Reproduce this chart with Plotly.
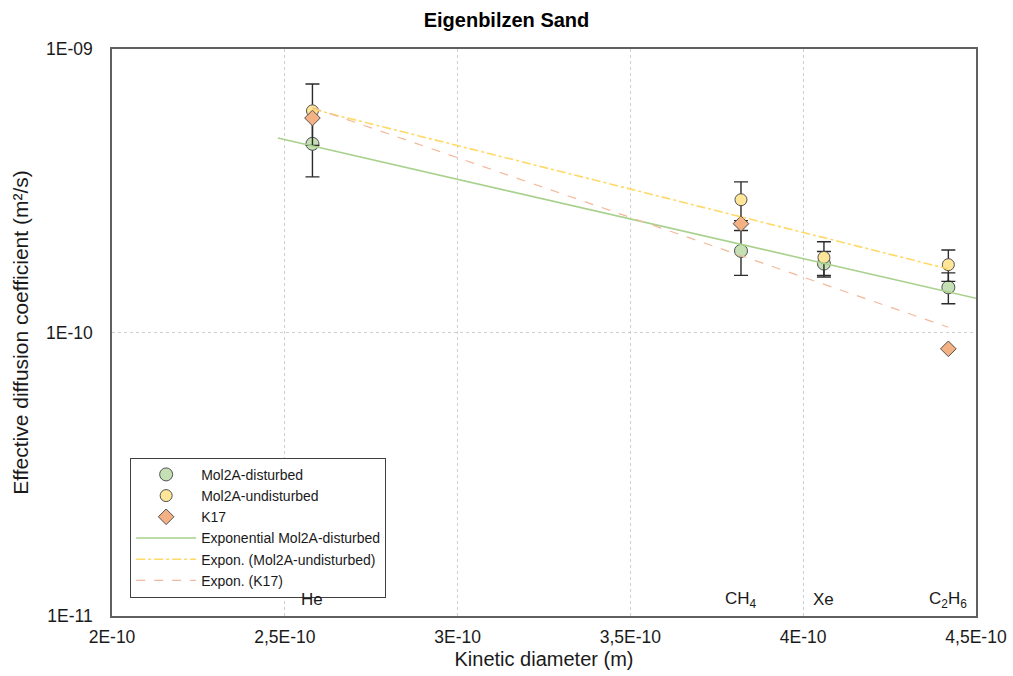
import numpy as np
import plotly.graph_objects as go

# Kinetic diameters (m)
gases = ["He", "CH<sub>4</sub>", "Xe", "C<sub>2</sub>H<sub>6</sub>"]
x_gas = [2.58e-10, 3.82e-10, 4.06e-10, 4.42e-10]

# Mol2A-disturbed
dist_y = [4.63e-10, 1.94e-10, 1.75e-10, 1.443e-10]
dist_err = [1.09e-10, 0.35e-10, 0.18e-10, 0.18e-10]

# Mol2A-undisturbed
und_y = [6.05e-10, 2.94e-10, 1.84e-10, 1.735e-10]
und_err = [1.48e-10, 0.46e-10, 0.25e-10, 0.22e-10]

# K17 (no Xe value)
k17_x = [2.58e-10, 3.82e-10, 4.42e-10]
k17_y = [5.71e-10, 2.42e-10, 0.876e-10]

x_tickvals = [2e-10, 2.5e-10, 3e-10, 3.5e-10, 4e-10, 4.5e-10]
x_ticktext = ["2E-10", "2,5E-10", "3E-10", "3,5E-10", "4E-10", "4,5E-10"]
y_tickvals = [1e-11, 1e-10, 1e-9]
y_ticktext = ["1E-11", "1E-10", "1E-09"]

# trendline forecast (Excel style): backward 0.1E-10 for the disturbed series
green_back = 0.1e-10


def expfit(x, y):
    x = np.asarray(x)
    b, a = np.polyfit(x, np.log(np.asarray(y)), 1)
    return lambda xx: np.exp(a + b * np.asarray(xx))


f_d = expfit(x_gas, dist_y)
f_u = expfit(x_gas, und_y)
f_k = expfit(k17_x, k17_y)

xd = np.linspace(x_gas[0] - green_back, x_tickvals[-1], 60)
xu = np.linspace(x_gas[0], x_gas[-1], 60)
xk = np.linspace(k17_x[0], k17_x[-1], 60)

edge = "#505050"
fig = go.Figure()

fig.add_trace(go.Scatter(
    x=x_gas, y=dist_y, mode="markers", name="Mol2A-disturbed",
    marker=dict(size=13, color="#C5E0B4", line=dict(color=edge, width=1)),
    error_y=dict(type="data", array=dist_err, color="#2b2b2b", thickness=1.4, width=7),
))
fig.add_trace(go.Scatter(
    x=x_gas, y=und_y, mode="markers", name="Mol2A-undisturbed",
    marker=dict(size=12, color="#FFE699", line=dict(color=edge, width=1)),
    error_y=dict(type="data", array=und_err, color="#2b2b2b", thickness=1.4, width=7),
))
fig.add_trace(go.Scatter(
    x=k17_x, y=k17_y, mode="markers", name="K17",
    marker=dict(size=12, symbol="diamond", color="#F4B183", line=dict(color=edge, width=1)),
))
fig.add_trace(go.Scatter(
    x=xd, y=f_d(xd), mode="lines", name="Exponential Mol2A-disturbed",
    line=dict(color="#A9D18E", width=1.6),
))
fig.add_trace(go.Scatter(
    x=xu, y=f_u(xu), mode="lines", name="Expon. (Mol2A-undisturbed)",
    line=dict(color="#FFD966", width=1.6, dash="dashdot"),
))
fig.add_trace(go.Scatter(
    x=xk, y=f_k(xk), mode="lines", name="Expon. (K17)",
    line=dict(color="#F4B99A", width=1.2, dash="dash"),
))

for g, xv in zip(gases, x_gas):
    fig.add_annotation(x=xv, y=np.log10(1.14e-11), xref="x", yref="y", text=g,
                       showarrow=False, font=dict(size=17, color="#1a1a1a"))

fig.update_layout(
    width=1013, height=676,
    margin=dict(l=112, r=37, t=49, b=60, autoexpand=False),
    paper_bgcolor="white", plot_bgcolor="white",
    font=dict(family="Liberation Sans, Arial, sans-serif", color="#1a1a1a"),
    title=dict(text="<b>Eigenbilzen Sand</b>", x=0.5, xanchor="center",
               y=1 - 20 / 676, yanchor="middle", font=dict(size=20, color="#000000")),
    showlegend=True,
    legend=dict(x=0.021, y=0.279, xanchor="left", yanchor="top",
                bordercolor="#404040", borderwidth=1, bgcolor="white",
                font=dict(size=14, color="#1a1a1a"), tracegroupgap=0,
                itemwidth=60),
    xaxis=dict(range=[2e-10, 4.5e-10], tickvals=x_tickvals, ticktext=x_ticktext,
               automargin=False,
               showgrid=True, gridcolor="#cfcfcf", griddash="dot", gridwidth=1,
               showline=True, mirror=True, linecolor="#606060", linewidth=1.5,
               ticks="", zeroline=False, tickfont=dict(size=17.5), ticklabelstandoff=4,
               title=dict(text="Kinetic diameter (m)", font=dict(size=20), standoff=6)),
    yaxis=dict(type="log", range=[-11, -9], tickvals=y_tickvals, ticktext=y_ticktext,
               automargin=False,
               showgrid=True, gridcolor="#cfcfcf", griddash="dot", gridwidth=1,
               showline=True, mirror=True, linecolor="#606060", linewidth=1.5,
               ticks="", zeroline=False, tickfont=dict(size=17.5), ticklabelstandoff=14,
               title=dict(text="Effective diffusion coefficient (m²/s)", font=dict(size=21), standoff=12)),
)

fig.write_html("out.html")
